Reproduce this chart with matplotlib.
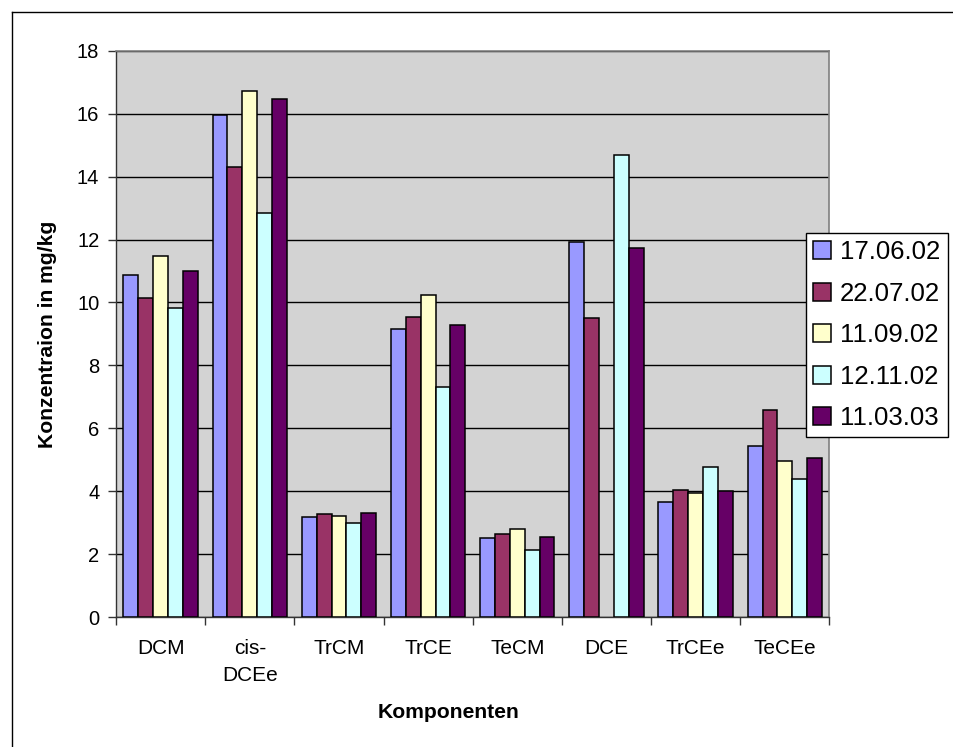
import numpy as np
import matplotlib
matplotlib.use("Agg")
import matplotlib.pyplot as plt
from matplotlib.patches import Patch
from matplotlib.lines import Line2D

categories = ["DCM", "cis-\nDCEe", "TrCM", "TrCE", "TeCM", "DCE", "TrCEe", "TeCEe"]
series_names = ["17.06.02", "22.07.02", "11.09.02", "12.11.02", "11.03.03"]
v_170602 = [10.86, 15.95, 3.18, 9.14, 2.52, 11.93, 3.67, 5.45]
v_220702 = [10.13, 14.29, 3.28, 9.55, 2.65, 9.50, 4.03, 6.57]
v_110902 = [11.47, 16.73, 3.21, 10.23, 2.81, np.nan, 3.94, 4.96]
v_121102 = [9.83, 12.85, 2.98, 7.31, 2.14, 14.67, 4.78, 4.39]
v_110303 = [10.99, 16.48, 3.31, 9.27, 2.55, 11.72, 4.00, 5.05]
series = [v_170602, v_220702, v_110902, v_121102, v_110303]
colors = ["#9999FF", "#993366", "#FFFFCC", "#CCFFFF", "#660066"]
y_ticks = [0, 2, 4, 6, 8, 10, 12, 14, 16, 18]

plt.rcParams['font.family'] = ['Liberation Sans', 'DejaVu Sans']

W, H = 954, 747
fig = plt.figure(figsize=(W / 100, H / 100), dpi=100)
ax = fig.add_axes([116 / W, 1 - 617.1 / H, (829.4 - 116) / W, (617.1 - 50.7) / H])
ax.set_facecolor("#D3D3D3")

x = np.arange(len(categories))
bw = 1 / 6
for i, (vals, c) in enumerate(zip(series, colors)):
    ax.bar(x + (i - 2) * bw, vals, width=bw, color=c, edgecolor="black",
           linewidth=1.1, zorder=3, label=series_names[i])

ax.set_xlim(-0.5, len(categories) - 0.5)
ax.set_ylim(0, 18)
ax.set_yticks(y_ticks)
ax.set_yticklabels([str(t) for t in y_ticks])
ax.yaxis.grid(True, color="black", linewidth=1.0, zorder=1)
ax.set_axisbelow(True)

ax.set_xticks(np.arange(len(categories) + 1) - 0.5)
ax.set_xticklabels([])
ax.set_xticks(x, minor=True)
ax.set_xticklabels(categories, minor=True, fontsize=15, linespacing=1.5)
ax.tick_params(axis='x', which='minor', length=0, pad=16)
ax.tick_params(axis='x', which='major', length=6, width=1, color="#333333", direction='out')
ax.tick_params(axis='y', length=6, width=1, color="#333333", direction='out', labelsize=14.5, pad=6)

for s in ['top', 'right']:
    ax.spines[s].set_color("#808080")
    ax.spines[s].set_linewidth(1.2)
for s in ['left', 'bottom']:
    ax.spines[s].set_color("#333333")
    ax.spines[s].set_linewidth(1.0)

fig.text(48 / W, 1 - 334 / H, "Konzentraion in mg/kg", rotation=90, fontsize=15.2,
         fontweight='bold', ha='center', va='center')
fig.text(449 / W, 1 - 713 / H, "Komponenten", fontsize=15.2, fontweight='bold',
         ha='center', va='center')

handles = [Patch(facecolor=c, edgecolor='black', linewidth=1.1) for c in colors]
leg = fig.legend(handles, series_names, loc='upper left',
                 bbox_to_anchor=(806 / W, 1 - 233 / H), fontsize=18.5,
                 frameon=True, fancybox=False, edgecolor='black', framealpha=1,
                 handlelength=0.7, handleheight=0.7, handletextpad=0.35,
                 labelspacing=0.68, borderpad=0.28, borderaxespad=0)
leg.get_frame().set_linewidth(1.0)

# outer chart border
fig.add_artist(Line2D([12 / W, 1.0], [1 - 12 / H, 1 - 12 / H], color='black', linewidth=1.0))
fig.add_artist(Line2D([12 / W, 12 / W], [1 - 12 / H, 0], color='black', linewidth=1.0))

fig.savefig("out.png", dpi=100, facecolor='white')
